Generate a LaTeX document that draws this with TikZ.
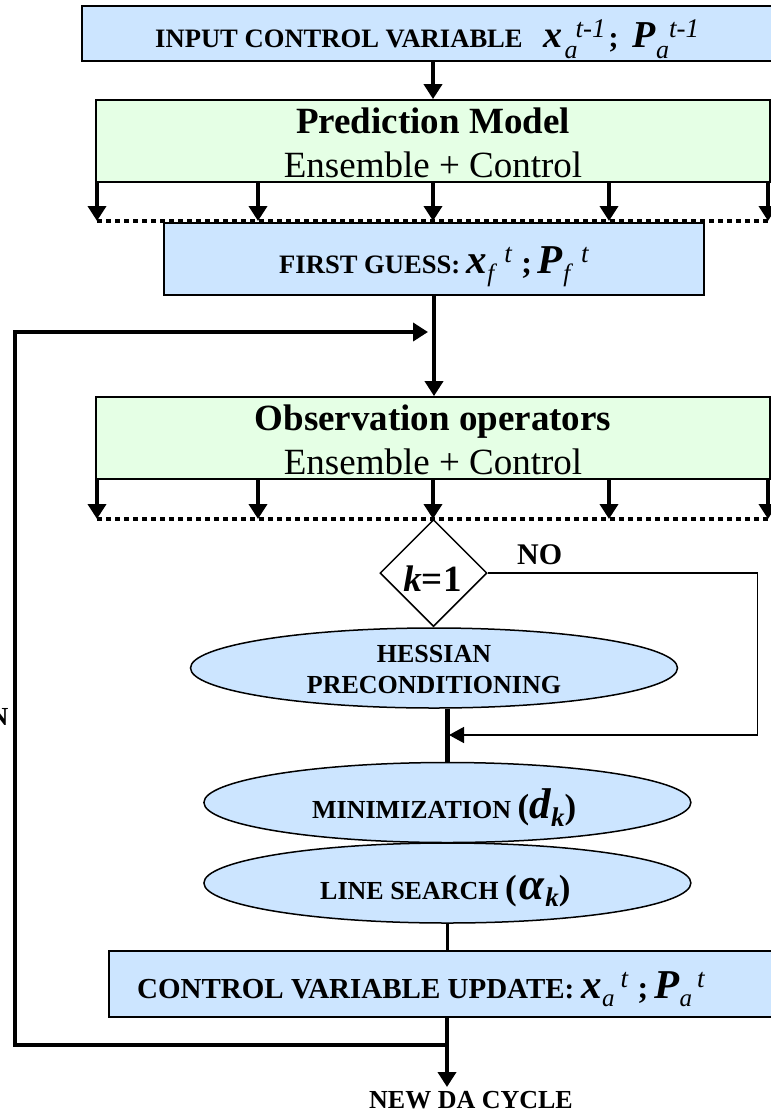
\documentclass[tikz,border=0pt]{standalone}
\usepackage{fontspec}
\setmainfont{Liberation Serif}
\usetikzlibrary{shapes.geometric,arrows.meta}
\definecolor{boxblue}{RGB}{204,229,255}
\definecolor{boxgreen}{RGB}{229,255,229}
\newcommand{\fs}[1]{\fontsize{#1}{#1}\selectfont}
\newcommand{\bix}[1]{\textbf{\textit{#1}}}
\begin{document}
\begin{tikzpicture}[x=1pt,y=-1pt,
  bluebox/.style={rectangle, draw=black, line width=1.8pt, fill=boxblue, inner sep=0pt},
  greenbox/.style={rectangle, draw=black, line width=1.8pt, fill=boxgreen, inner sep=0pt},
  oval/.style={ellipse, draw=black, line width=1.5pt, fill=boxblue, inner sep=0pt, minimum width=487pt, minimum height=80pt},
  thickarrow/.style={line width=4.5pt, -{Triangle[length=15pt,width=18pt]}},
  thickline/.style={line width=4.5pt},
  noline/.style={line width=1.5pt, -{Triangle[length=15pt,width=16pt]}},
  dotline/.style={line width=4pt, dash pattern=on 4.5pt off 4.5pt},
  smalllbl/.style={font={\fs{26}\bfseries}, inner sep=0pt},
  biglbl/.style={font={\fs{37}\bfseries}, inner sep=0pt},
  bigreg/.style={font={\fs{37}}, inner sep=0pt}
]
\useasboundingbox (0,0) rectangle (771,1114);
\clip (0,0) rectangle (771,1114);

% ---- top box
\node[bluebox, minimum width=700pt, minimum height=55pt] (inp) at (432,33.5) {};
\node[font={\fs{26.6}\bfseries}, inner sep=0pt, anchor=base west] (inptxt) at (155,47.5) {INPUT CONTROL VARIABLE\hspace{21pt}{\fs{38}\bix{x}}\hspace{2pt}\raisebox{-11pt}{\fs{26}\mdseries\textit{a}}\hspace{-2pt}\raisebox{10pt}{\fs{27}\mdseries\textit{t-1}}\hspace{3pt}{\fs{30};}\hspace{14pt}{\fs{38}\bix{P}}\raisebox{-11pt}{\fs{26}\mdseries\textit{a}}\raisebox{10pt}{\fs{27}\mdseries\textit{t-1}}};

% ---- prediction model
\node[greenbox, minimum width=674pt, minimum height=82pt] (pred) at (433,141) {};
\node[biglbl, anchor=base] (predt1) at (433,133) {Prediction Model};
\node[bigreg, anchor=base] (predt2) at (433,177.5) {Ensemble + Control};

\draw[thickarrow] (pred.north |- inp.south) -- (pred.north);

\coordinate (pa1) at (97,221);
\coordinate (pa2) at (258,221);
\coordinate (pa3) at (433,221);
\coordinate (pa4) at (609,221);
\coordinate (pa5) at (768,221);
\coordinate (pdR) at (775,221);
\draw[dotline] (pa1) -- (pdR);
\foreach \c in {pa1,pa2,pa3,pa4,pa5}
  \draw[thickarrow] (pred.south -| \c) -- (\c);

% ---- first guess
\node[bluebox, minimum width=540pt, minimum height=72pt] (fg) at (434,259) {};
\node[font={\fs{26.6}\bfseries}, inner sep=0pt, anchor=base west] (fgtxt) at (279,273) {FIRST GUESS: {\fs{41}\bix{x}}\raisebox{-8pt}{\fs{25}\mdseries\textit{f}}\hspace{7pt}\raisebox{11pt}{\fs{27}\mdseries\textit{t}}\hspace{9pt}{\fs{32};}\hspace{6pt}{\fs{41}\bix{P}}\raisebox{-8pt}{\fs{25}\mdseries\textit{f}}\hspace{8pt}\raisebox{11pt}{\fs{27}\mdseries\textit{t}}};

% ---- observation operators
\node[greenbox, minimum width=674pt, minimum height=82pt] (obs) at (433,438) {};
\node[biglbl, anchor=base] (obst1) at (433,430) {Observation operators};
\node[bigreg, anchor=base] (obst2) at (433,474.5) {Ensemble + Control};

\draw[thickarrow] (fg.south) -- (fg.south |- obs.north);

\coordinate (oa1) at (97,519);
\coordinate (oa2) at (258,519);
\coordinate (oa3) at (433,519);
\coordinate (oa4) at (609,519);
\coordinate (oa5) at (768,519);
\coordinate (odR) at (775,519);
\draw[dotline] (oa1) -- (odR);
\foreach \c in {oa1,oa2,oa3,oa4,oa5}
  \draw[thickarrow] (obs.south -| \c) -- (\c);

% ---- decision
\node[diamond, shape aspect=1, draw=black, line width=1.5pt, fill=white, inner sep=0pt, minimum width=107pt, minimum height=107pt] (dia) at (433.5,573) {};
\node[font={\fs{37}\bfseries}, inner sep=0pt, anchor=base] (ktxt) at (432.5,591) {\textit{k}=1};
\node[font={\fs{30}\bfseries}, inner sep=0pt, anchor=base west] (notxt) at (517,564.5) {NO};

% ---- hessian
\node[oval] (hes) at (434,668) {};
\node[smalllbl, anchor=base] (hest1) at (434,662) {HESSIAN};
\node[smalllbl, anchor=base] (hest2) at (434,693) {PRECONDITIONING};

% ---- minimization & line search
\node[oval] (min) at (447.4,802.5) {};
\node[smalllbl, anchor=base west] (mintxt) at (312,818) {MINIMIZATION {\fs{35}(}{\fs{43}\textit{d}}\raisebox{-8pt}{\fs{27}\textit{k}}{\fs{35})}};
\node[oval] (ls) at (447.4,883) {};
\node[smalllbl, anchor=base west] (lstxt) at (320,899) {LINE SEARCH {\fs{35}(}\hspace{3pt}{\fs{45}\textit{α}}\raisebox{-7pt}{\fs{27}\textit{k}}{\fs{35})}};

\coordinate (noR) at (757.5,573);
\coordinate (noJ) at (449,735);
\draw[noline] (dia.east) -- (noR) |- (noJ);

\draw[thickline] (min.north |- hes.south) -- (min.north);
\draw[line width=2.5pt] (ls.south) -- (ls.south |- 0,951);

% ---- control variable update
\node[bluebox, minimum width=676pt, minimum height=66pt] (cv) at (447,984) {};
\node[font={\fs{29}\bfseries}, inner sep=0pt, anchor=base west] (cvtxt) at (137,998) {CONTROL VARIABLE UPDATE: {\fs{41}\bix{x}}\raisebox{-8pt}{\fs{25}\mdseries\textit{a}}\hspace{6pt}\raisebox{11pt}{\fs{27}\mdseries\textit{t}}\hspace{9pt}{\fs{32};}\hspace{6pt}{\fs{41}\bix{P}}\raisebox{-8pt}{\fs{25}\mdseries\textit{a}}\hspace{5pt}\raisebox{11pt}{\fs{27}\mdseries\textit{t}}};

% ---- bottom and feedback loop
\coordinate (join) at (447,1045);
\coordinate (newtip) at (447,1087);
\coordinate (fbBL) at (15,1045);
\coordinate (fbTL) at (15,332);
\coordinate (fbTip) at (428,332);
\draw[thickarrow] (cv.south) -- (newtip);
\draw[thickarrow] (join) -- (fbBL) -- (fbTL) -- (fbTip);
\node[smalllbl, anchor=base] (newda) at (471,1108) {NEW DA CYCLE};
\node[smalllbl, anchor=base east] (ntxt) at (8.5,725) {N};
\end{tikzpicture}
\end{document}
